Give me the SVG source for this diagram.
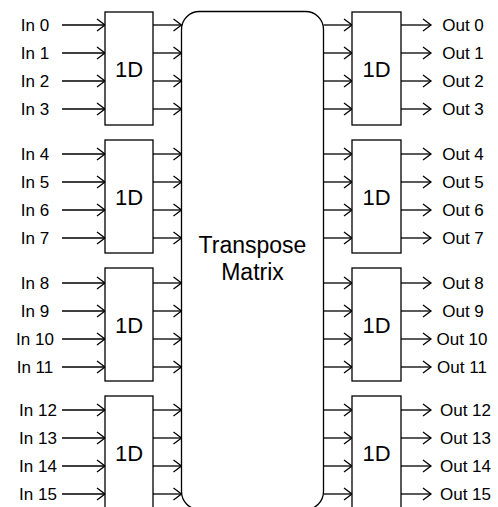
<svg xmlns="http://www.w3.org/2000/svg" width="498" height="507" viewBox="0 0 498 507">
<defs>
<marker id="arr" markerUnits="userSpaceOnUse" markerWidth="12" markerHeight="16" viewBox="-10 -8 12 16" refX="0" refY="0" orient="auto">
<path d="M-8,-6 L0,0 L-8,6" fill="none" stroke="#000" stroke-width="1.3"/>
</marker>
</defs>
<style>
.box{fill:#fff;stroke:#000;stroke-width:1.3}
.ln{stroke:#000;stroke-width:1.3;fill:none;marker-end:url(#arr)}
.lbl{font-family:"Liberation Sans",Arial,sans-serif;font-size:17px;fill:#000;text-anchor:middle}
.big{font-family:"Liberation Sans",Arial,sans-serif;font-size:22px;fill:#000;text-anchor:middle}
.tm{font-family:"Liberation Sans",Arial,sans-serif;font-size:23px;fill:#000;text-anchor:middle}
</style>
<rect width="498" height="507" fill="#fff"/>
<g id="connectors">
<path class="ln" d="M62,25H105"/><path class="ln" d="M62,53H105"/><path class="ln" d="M62,81H105"/><path class="ln" d="M62,109H105"/>
<path class="ln" d="M62,154H105"/><path class="ln" d="M62,182H105"/><path class="ln" d="M62,210H105"/><path class="ln" d="M62,238H105"/>
<path class="ln" d="M62,283H105"/><path class="ln" d="M62,311H105"/><path class="ln" d="M62,339H105"/><path class="ln" d="M62,367H105"/>
<path class="ln" d="M62,410H105"/><path class="ln" d="M62,438H105"/><path class="ln" d="M62,466H105"/><path class="ln" d="M62,494H105"/>
<path class="ln" d="M153,25H181.5"/><path class="ln" d="M153,53H181.5"/><path class="ln" d="M153,81H181.5"/><path class="ln" d="M153,109H181.5"/>
<path class="ln" d="M153,154H181.5"/><path class="ln" d="M153,182H181.5"/><path class="ln" d="M153,210H181.5"/><path class="ln" d="M153,238H181.5"/>
<path class="ln" d="M153,283H181.5"/><path class="ln" d="M153,311H181.5"/><path class="ln" d="M153,339H181.5"/><path class="ln" d="M153,367H181.5"/>
<path class="ln" d="M153,410H181.5"/><path class="ln" d="M153,438H181.5"/><path class="ln" d="M153,466H181.5"/><path class="ln" d="M153,494H181.5"/>
<path class="ln" d="M323.5,25H352"/><path class="ln" d="M323.5,53H352"/><path class="ln" d="M323.5,81H352"/><path class="ln" d="M323.5,109H352"/>
<path class="ln" d="M323.5,154H352"/><path class="ln" d="M323.5,182H352"/><path class="ln" d="M323.5,210H352"/><path class="ln" d="M323.5,238H352"/>
<path class="ln" d="M323.5,283H352"/><path class="ln" d="M323.5,311H352"/><path class="ln" d="M323.5,339H352"/><path class="ln" d="M323.5,367H352"/>
<path class="ln" d="M323.5,410H352"/><path class="ln" d="M323.5,438H352"/><path class="ln" d="M323.5,466H352"/><path class="ln" d="M323.5,494H352"/>
<path class="ln" d="M401,25H431"/><path class="ln" d="M401,53H431"/><path class="ln" d="M401,81H431"/><path class="ln" d="M401,109H431"/>
<path class="ln" d="M401,154H431"/><path class="ln" d="M401,182H431"/><path class="ln" d="M401,210H431"/><path class="ln" d="M401,238H431"/>
<path class="ln" d="M401,283H431"/><path class="ln" d="M401,311H431"/><path class="ln" d="M401,339H431"/><path class="ln" d="M401,367H431"/>
<path class="ln" d="M401,410H431"/><path class="ln" d="M401,438H431"/><path class="ln" d="M401,466H431"/><path class="ln" d="M401,494H431"/>
</g>
<g id="matrix">
<rect class="box" x="181.5" y="11.5" width="142" height="498" rx="18" ry="18"/>
<text class="tm" x="252.5" y="252.5">Transpose</text>
<text class="tm" x="252.5" y="280">Matrix</text>
</g>
<g id="in1d0"><rect class="box" x="105" y="12" width="48" height="113"/><text class="big" x="129" y="76.5">1D</text></g>
<g id="in1d1"><rect class="box" x="105" y="140" width="48" height="113"/><text class="big" x="129" y="204.5">1D</text></g>
<g id="in1d2"><rect class="box" x="105" y="268" width="48" height="113"/><text class="big" x="129" y="332.5">1D</text></g>
<g id="in1d3"><rect class="box" x="105" y="396" width="48" height="113"/><text class="big" x="129" y="460.5">1D</text></g>
<g id="out1d0"><rect class="box" x="352" y="12" width="49" height="113"/><text class="big" x="376.5" y="76.5">1D</text></g>
<g id="out1d1"><rect class="box" x="352" y="140" width="49" height="113"/><text class="big" x="376.5" y="204.5">1D</text></g>
<g id="out1d2"><rect class="box" x="352" y="268" width="49" height="113"/><text class="big" x="376.5" y="332.5">1D</text></g>
<g id="out1d3"><rect class="box" x="352" y="396" width="49" height="113"/><text class="big" x="376.5" y="460.5">1D</text></g>
<g id="inlabels">
<text class="lbl" x="35" y="31">In 0</text><text class="lbl" x="35" y="59">In 1</text><text class="lbl" x="35" y="87">In 2</text><text class="lbl" x="35" y="115">In 3</text>
<text class="lbl" x="35" y="160">In 4</text><text class="lbl" x="35" y="188">In 5</text><text class="lbl" x="35" y="216">In 6</text><text class="lbl" x="35" y="244">In 7</text>
<text class="lbl" x="35" y="289">In 8</text><text class="lbl" x="35" y="317">In 9</text><text class="lbl" x="35" y="345">In 10</text><text class="lbl" x="35" y="373">In 11</text>
<text class="lbl" x="38" y="416">In 12</text><text class="lbl" x="38" y="444">In 13</text><text class="lbl" x="38" y="472">In 14</text><text class="lbl" x="38" y="500">In 15</text>
</g>
<g id="outlabels">
<text class="lbl" x="463" y="31">Out 0</text><text class="lbl" x="463" y="59">Out 1</text><text class="lbl" x="463" y="87">Out 2</text><text class="lbl" x="463" y="115">Out 3</text>
<text class="lbl" x="463" y="160">Out 4</text><text class="lbl" x="463" y="188">Out 5</text><text class="lbl" x="463" y="216">Out 6</text><text class="lbl" x="463" y="244">Out 7</text>
<text class="lbl" x="463" y="289">Out 8</text><text class="lbl" x="463" y="317">Out 9</text><text class="lbl" x="462" y="345">Out 10</text><text class="lbl" x="462" y="373">Out 11</text>
<text class="lbl" x="465.5" y="416">Out 12</text><text class="lbl" x="465.5" y="444">Out 13</text><text class="lbl" x="465.5" y="472">Out 14</text><text class="lbl" x="465.5" y="500">Out 15</text>
</g>
</svg>
